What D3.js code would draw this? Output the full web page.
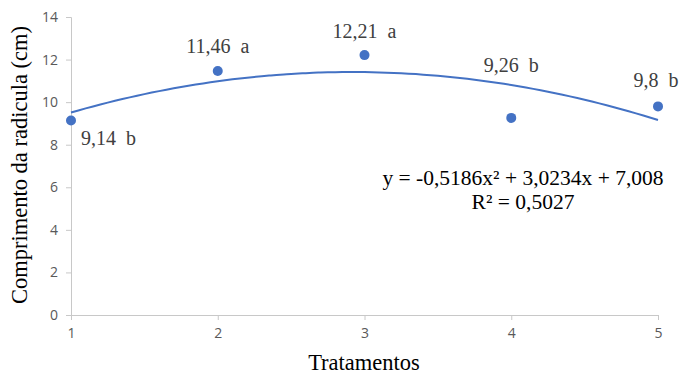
<!DOCTYPE html>
<html>
<head>
<meta charset="utf-8">
<script src="https://cdn.jsdelivr.net/npm/d3@7"></script>
<style>
  body { margin: 0; background: #fff; }
  text { white-space: pre; }
</style>
</head>
<body>
<div id="chart"></div>
<script>
// data
var tratamentos = [1, 2, 3, 4, 5];
var comprimento = [9.14, 11.46, 12.21, 9.26, 9.8];
var rotulos = ["9,14  b", "11,46  a", "12,21  a", "9,26  b", "9,8  b"];
var yTicks = [0, 2, 4, 6, 8, 10, 12, 14];
// trendline coefficients from the equation shown (a x^2 + b x + c)
var coef = [-0.5186, 3.0234, 7.008];

var width = 681, height = 377;
var margin = {top: 17, right: 23, bottom: 62, left: 71};

var svg = d3.select("#chart").append("svg")
  .attr("width", width)
  .attr("height", height);

var x = d3.scaleLinear().domain([1, 5]).range([margin.left, width - margin.right]);
var y = d3.scaleLinear().domain([0, 14]).range([height - margin.bottom, margin.top]);

// y axis
var yAxis = svg.append("g")
  .attr("transform", `translate(${margin.left}, 0)`)
  .call(d3.axisLeft(y).tickValues(yTicks).tickSize(5).tickPadding(8));
yAxis.select(".domain").attr("stroke", "#c8c8c8");
yAxis.selectAll(".tick line").attr("stroke", "#c8c8c8");
yAxis.selectAll("text")
  .attr("fill", "#595959")
  .attr("font-family", "Open Sans, sans-serif")
  .attr("font-size", "14px");

// x axis
var xAxis = svg.append("g")
  .attr("transform", `translate(0, ${height - margin.bottom})`)
  .call(d3.axisBottom(x).tickValues(tratamentos).tickFormat(d3.format("d")).tickSize(5).tickPadding(8));
xAxis.select(".domain").attr("stroke", "#c8c8c8");
xAxis.selectAll(".tick line").attr("stroke", "#c8c8c8");
xAxis.selectAll("text")
  .attr("fill", "#595959")
  .attr("font-family", "Open Sans, sans-serif")
  .attr("font-size", "14px");

// polynomial trendline
var xs = d3.range(1, 5.001, 0.05);
var line = d3.line()
  .x(function(d) { return x(d); })
  .y(function(d) { return y(coef[0] * d * d + coef[1] * d + coef[2]); })
  .curve(d3.curveMonotoneX);
svg.append("path")
  .datum(xs)
  .attr("fill", "none")
  .attr("stroke", "#4472C4")
  .attr("stroke-width", 2)
  .attr("d", line);

// points
svg.selectAll("circle.pt")
  .data(tratamentos)
  .enter().append("circle")
  .attr("class", "pt")
  .attr("cx", function(d) { return x(d); })
  .attr("cy", function(d, i) { return y(comprimento[i]); })
  .attr("r", 5)
  .attr("fill", "#4472C4");

// data labels (offsets in px relative to each point)
var labOff = [[10, 25, "start"], [0, -18, "middle"], [0, -17, "middle"], [0, -46, "middle"], [-2, -19, "middle"]];
svg.selectAll("text.lab")
  .data(tratamentos)
  .enter().append("text")
  .attr("class", "lab")
  .attr("x", function(d, i) { return x(d) + labOff[i][0]; })
  .attr("y", function(d, i) { return y(comprimento[i]) + labOff[i][1]; })
  .attr("text-anchor", function(d, i) { return labOff[i][2]; })
  .attr("font-family", "Liberation Serif, serif")
  .attr("font-size", "20px")
  .attr("fill", "#404040")
  .text(function(d, i) { return rotulos[i]; });

// equation
svg.append("text")
  .attr("x", 523).attr("y", 185)
  .attr("text-anchor", "middle")
  .attr("font-family", "Liberation Serif, serif")
  .attr("font-size", "21.5px")
  .attr("fill", "#000")
  .text("y = -0,5186x² + 3,0234x + 7,008");
svg.append("text")
  .attr("x", 523).attr("y", 209)
  .attr("text-anchor", "middle")
  .attr("font-family", "Liberation Serif, serif")
  .attr("font-size", "21.5px")
  .attr("fill", "#000")
  .text("R² = 0,5027");

// axis titles
svg.append("text")
  .attr("transform", "translate(27, 165) rotate(-90)")
  .attr("text-anchor", "middle")
  .attr("font-family", "Liberation Serif, serif")
  .attr("font-size", "22.5px")
  .attr("fill", "#000")
  .text("Comprimento da radicula (cm)");

svg.append("text")
  .attr("x", 364).attr("y", 370)
  .attr("text-anchor", "middle")
  .attr("font-family", "Liberation Serif, serif")
  .attr("font-size", "22.5px")
  .attr("fill", "#000")
  .text("Tratamentos");
</script>
</body>
</html>
